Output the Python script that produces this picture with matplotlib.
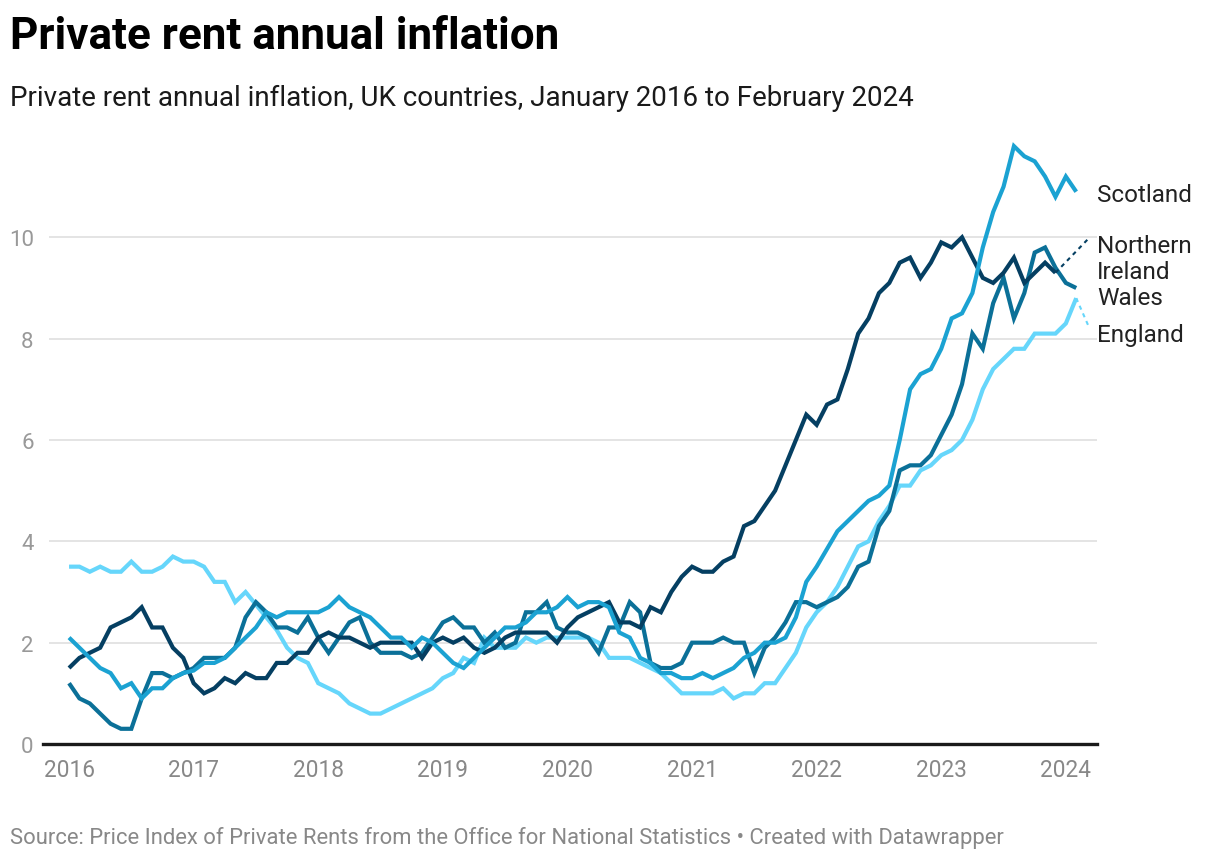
import matplotlib
matplotlib.use("Agg")
import matplotlib.pyplot as plt
import matplotlib.transforms as mtransforms
import numpy as np

plt.rcParams['font.family'] = ['Roboto', 'DejaVu Sans']

# ---------------- data (monthly, Jan 2016 onwards) ----------------
year_labels = ["2016", "2017", "2018", "2019", "2020", "2021", "2022", "2023", "2024"]

england = [3.5, 3.5, 3.4, 3.5, 3.4, 3.4, 3.6, 3.4, 3.4, 3.5, 3.7, 3.6,
           3.6, 3.5, 3.2, 3.2, 2.8, 3.0, 2.75, 2.5, 2.25, 1.9, 1.7, 1.6,
           1.2, 1.1, 1.0, 0.8, 0.7, 0.6, 0.6, 0.7, 0.8, 0.9, 1.0, 1.1,
           1.3, 1.4, 1.7, 1.6, 2.1, 1.9, 1.9, 1.9, 2.1, 2.0, 2.1, 2.1,
           2.1, 2.1, 2.1, 2.0, 1.7, 1.7, 1.7, 1.6, 1.5, 1.4, 1.2, 1.0,
           1.0, 1.0, 1.0, 1.1, 0.9, 1.0, 1.0, 1.2, 1.2, 1.5, 1.8, 2.3,
           2.6, 2.8, 3.1, 3.5, 3.9, 4.0, 4.4, 4.7, 5.1, 5.1, 5.4, 5.5,
           5.7, 5.8, 6.0, 6.4, 7.0, 7.4, 7.6, 7.8, 7.8, 8.1, 8.1, 8.1,
           8.3, 8.8]

scotland = [2.1, 1.9, 1.7, 1.5, 1.4, 1.1, 1.2, 0.9, 1.1, 1.1, 1.3, 1.4,
            1.45, 1.6, 1.6, 1.7, 1.9, 2.1, 2.3, 2.6, 2.5, 2.6, 2.6, 2.6,
            2.6, 2.7, 2.9, 2.7, 2.6, 2.5, 2.3, 2.1, 2.1, 1.9, 2.1, 2.0,
            1.8, 1.6, 1.5, 1.7, 1.9, 2.1, 2.3, 2.3, 2.4, 2.6, 2.6, 2.7,
            2.9, 2.7, 2.8, 2.8, 2.7, 2.2, 2.1, 1.7, 1.6, 1.4, 1.4, 1.3,
            1.3, 1.4, 1.3, 1.4, 1.5, 1.7, 1.8, 2.0, 2.0, 2.1, 2.5, 3.2,
            3.5, 3.85, 4.2, 4.4, 4.6, 4.8, 4.9, 5.1, 6.0, 7.0, 7.3, 7.4,
            7.8, 8.4, 8.5, 8.9, 9.8, 10.5, 11.0, 11.8, 11.6, 11.5, 11.2, 10.8,
            11.2, 10.9]

wales = [1.2, 0.9, 0.8, 0.6, 0.4, 0.3, 0.3, 0.9, 1.4, 1.4, 1.3, 1.4,
         1.5, 1.7, 1.7, 1.7, 1.9, 2.5, 2.8, 2.6, 2.3, 2.3, 2.2, 2.5,
         2.1, 1.8, 2.1, 2.4, 2.5, 2.0, 1.8, 1.8, 1.8, 1.7, 1.8, 2.1,
         2.4, 2.5, 2.3, 2.3, 2.0, 2.2, 1.9, 2.0, 2.6, 2.6, 2.8, 2.3,
         2.2, 2.2, 2.1, 1.8, 2.3, 2.3, 2.8, 2.6, 1.6, 1.5, 1.5, 1.6,
         2.0, 2.0, 2.0, 2.1, 2.0, 2.0, 1.4, 1.9, 2.1, 2.4, 2.8, 2.8,
         2.7, 2.8, 2.9, 3.1, 3.5, 3.6, 4.3, 4.6, 5.4, 5.5, 5.5, 5.7,
         6.1, 6.5, 7.1, 8.1, 7.8, 8.7, 9.2, 8.4, 8.9, 9.7, 9.8, 9.4,
         9.1, 9.0]

northern_ireland = [1.5, 1.7, 1.8, 1.9, 2.3, 2.4, 2.5, 2.7, 2.3, 2.3, 1.9, 1.7,
                    1.2, 1.0, 1.1, 1.3, 1.2, 1.4, 1.3, 1.3, 1.6, 1.6, 1.8, 1.8,
                    2.1, 2.2, 2.1, 2.1, 2.0, 1.9, 2.0, 2.0, 2.0, 2.0, 1.7, 2.0,
                    2.1, 2.0, 2.1, 1.9, 1.8, 1.9, 2.1, 2.2, 2.2, 2.2, 2.2, 2.0,
                    2.3, 2.5, 2.6, 2.7, 2.8, 2.4, 2.4, 2.3, 2.7, 2.6, 3.0, 3.3,
                    3.5, 3.4, 3.4, 3.6, 3.7, 4.3, 4.4, 4.7, 5.0, 5.5, 6.0, 6.5,
                    6.3, 6.7, 6.8, 7.4, 8.1, 8.4, 8.9, 9.1, 9.5, 9.6, 9.2, 9.5,
                    9.9, 9.8, 10.0, 9.6, 9.2, 9.1, 9.3, 9.6, 9.1, 9.3, 9.5, 9.3]

series_names = ["England", "Wales", "Northern\nIreland", "Scotland"]
series_values = [england, wales, northern_ireland, scotland]
colors = ["#66d6fb", "#0b7098", "#053f62", "#1ba2d2"]
label_y = [8.09, 8.82, 9.58, 10.85]

# ---------------- figure ----------------
W, H = 1220, 862
fig = plt.figure(figsize=(W / 100, H / 100), dpi=100)
ax = fig.add_axes([49 / W, 1 - 745 / H, (1097 - 49) / W, (745 - 137) / H])

for vals, c in zip(series_values, colors):
    x = np.arange(len(vals))
    ax.plot(x, vals, color=c, lw=3.0, solid_joinstyle='miter', solid_capstyle='butt', zorder=3)

ax.set_xlim(-1.93, 99.0)
ax.set_ylim(0, 12)

for s in ax.spines.values():
    s.set_visible(False)

# gridlines
ax.set_yticks([0, 2, 4, 6, 8, 10])
ax.set_yticklabels(["0", "2", "4", "6", "8", "10"])
ax.yaxis.grid(True, color="#e2e2e2", lw=1.3)
ax.set_axisbelow(True)
ax.axhline(0, xmin=-0.006, xmax=1.0, color="#1a1a1a", lw=2.4, zorder=4, clip_on=False)
ax.tick_params(axis='y', length=0, pad=11, labelsize=16, labelcolor="#999999")

ax.set_xticks(np.arange(0, 12 * len(year_labels), 12))
ax.set_xticklabels(year_labels)
ax.tick_params(axis='x', length=0, pad=10, labelsize=16.3, labelcolor="#888888")

# right-hand labels
trans = mtransforms.blended_transform_factory(ax.transAxes, ax.transData)
for name, c, ly in zip(series_names, colors, label_y):
    ax.text(1.0, ly, name, transform=trans, ha='left', va='center',
            fontsize=17.5, color="#222222", linespacing=1.13, clip_on=False)

# dotted connectors for labels offset from line ends
for vals, c, ly in [(northern_ireland, colors[2], 9.98), (england, colors[0], 8.24)]:
    xe = len(vals) - 1
    ax.plot([xe, 98.2], [vals[-1], ly], color=c, lw=1.5, ls=(0, (2, 2)), zorder=3, clip_on=False)

# titles
fig.text(10 / W, 1 - 37 / H, "Private rent annual inflation", fontsize=31.7,
         fontweight='bold', color="#000000", va='center', ha='left')
fig.text(10 / W, 1 - 98 / H,
         "Private rent annual inflation, UK countries, January 2016 to February 2024",
         fontsize=20, color="#1a1a1a", va='center', ha='left')
fig.text(10 / W, 1 - 838 / H,
         "Source: Price Index of Private Rents from the Office for National Statistics \u2022 Created with Datawrapper",
         fontsize=15.8, color="#888888", va='center', ha='left')

fig.savefig("out.png", dpi=100, facecolor="white")
